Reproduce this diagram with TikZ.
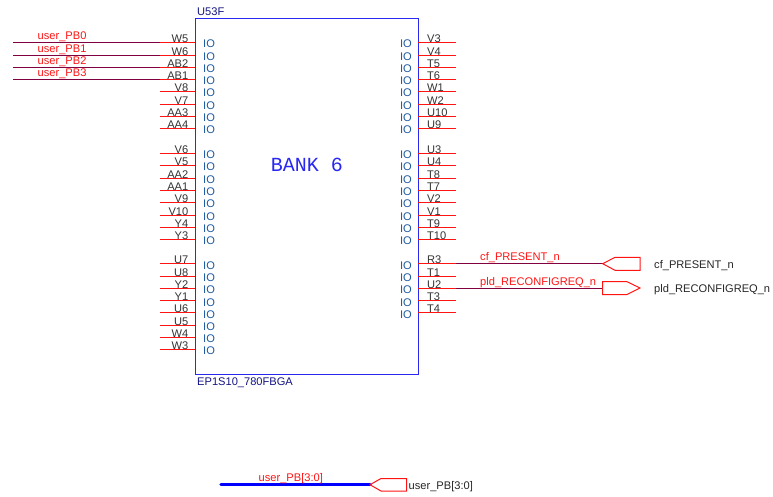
\documentclass[tikz,border=0pt]{standalone}
\usepackage{fontspec}
\setmainfont{Liberation Sans}
\newfontfamily\bankfont{Liberation Mono}
\definecolor{pinred}{RGB}{255,20,20}
\definecolor{wirered}{RGB}{128,0,64}
\definecolor{iocol}{RGB}{30,90,160}
\definecolor{navy}{RGB}{20,20,130}
\definecolor{boxblue}{RGB}{40,40,240}
\tikzset{x=1pt,y=-1pt,
  pinline/.style={draw=pinred,line width=1pt},
  wire/.style={draw=wirered,line width=1pt},
  bus/.style={draw=blue,line width=3.2pt,line cap=round},
  port/.style={draw=pinred,line width=1pt,line join=miter},
  txt/.style={inner sep=0pt,font=\fontsize{11.1}{12}\selectfont},
  pinlabel/.style={txt,text=black!80},
  leftpin/.style={pinlabel,anchor=east},
  rightpin/.style={pinlabel,anchor=west},
  iolabel/.style={txt,text=iocol,anchor=west},
  netlabel/.style={txt,text=pinred,anchor=west},
  portlabel/.style={txt,text=black!85,anchor=west},
  partlabel/.style={txt,text=navy,anchor=west},
}
\begin{document}
\begin{tikzpicture}
\useasboundingbox (0,0) rectangle (773,496);
\fill[white] (0,0) rectangle (773,496);
\node[draw=boxblue,line width=1pt,minimum width=223pt,minimum height=356pt,inner sep=0pt] (chip) at (306.5,196) {};
\node[partlabel] (refdes) at (197,12) {U53F};
\node[partlabel] (partno) at (197,383) {EP1S10\_780FBGA};
\node[inner sep=0pt,text=boxblue,font=\bankfont\fontsize{20}{22}\selectfont] (bank) at (307,164.5) {BANK 6};
% left pins
\foreach \n/\y in {W5/42.5,W6/55,AB2/67,AB1/79.5,V8/91.5,V7/104,AA3/116,AA4/128.5,
  V6/153.5,V5/165.5,AA2/178,AA1/190,V9/202.5,V10/215,Y4/227,Y3/239.5,
  U7/263.7,U8/276,Y2/288,Y1/300.7,U6/312.7,U5/325,W4/337.5,W3/349.5}{
  \coordinate (L\n) at (160,\y);
  \coordinate (LB\n) at (195,\y);
  \draw[pinline] (L\n) -- (LB\n);
  \node[leftpin] (Lt\n) at (188.5,\y-3.6) {\n};
  \node[iolabel] (Lio\n) at (203,\y+1.5) {IO};
}
% right pins
\foreach \n/\y in {V3/42.5,V4/55,T5/67,T6/79.5,W1/91.5,W2/104,U10/116,U9/128.5,
  U3/153.5,U4/165.5,T8/178,T7/190,V2/202.5,V1/215,T9/227,T10/239.5,
  R3/263.7,T1/276,U2/288,T3/300.7,T4/312.7}{
  \coordinate (R\n) at (456,\y);
  \coordinate (RB\n) at (418,\y);
  \draw[pinline] (RB\n) -- (R\n);
  \node[rightpin] (Rt\n) at (427,\y-3.6) {\n};
  \node[iolabel,anchor=east] (Rio\n) at (412,\y+1.5) {IO};
}
% user_PB wires
\foreach \i/\n/\y in {0/W5/42.5,1/W6/55,2/AB2/67,3/AB1/79.5}{
  \coordinate (start\i) at (13,\y);
  \draw[wire] (start\i) -- (L\n);
  \node[netlabel] (net\i) at (37.5,\y-5.5) {user\_PB\i};
}
% cf_PRESENT_n
\coordinate (cftip) at (602.7,263.7);
\draw[wire] (RR3) -- (cftip);
\draw[port] (cftip) -- (615,257.3) -- (640,257.3) -- (640,270.3) -- (615,270.3) -- cycle;
\node[netlabel] (netcf) at (480,258) {cf\_PRESENT\_n};
\node[portlabel] (portcf) at (654,266) {cf\_PRESENT\_n};
% pld_RECONFIGREQ_n
\coordinate (pldtail) at (602.7,288);
\draw[wire] (RU2) -- (pldtail);
\draw[port] (pldtail) -- (602.7,281.7) -- (627,281.7) -- (640,288) -- (627,294.5) -- (602.7,294.5) -- cycle;
\node[netlabel] (netpld) at (480,283) {pld\_RECONFIGREQ\_n};
\node[portlabel] (portpld) at (654,290) {pld\_RECONFIGREQ\_n};
% bus
\coordinate (busstart) at (221,484.7);
\coordinate (bustip) at (370,484.7);
\draw[bus] (busstart) -- (bustip);
\draw[port] (bustip) -- (381,478.5) -- (406.5,478.5) -- (406.5,491) -- (381,491) -- cycle;
\node[netlabel] (netbus) at (258.5,478.5) {user\_PB[3:0]};
\node[portlabel] (portbus) at (408.5,487) {user\_PB[3:0]};
\end{tikzpicture}
\end{document}
